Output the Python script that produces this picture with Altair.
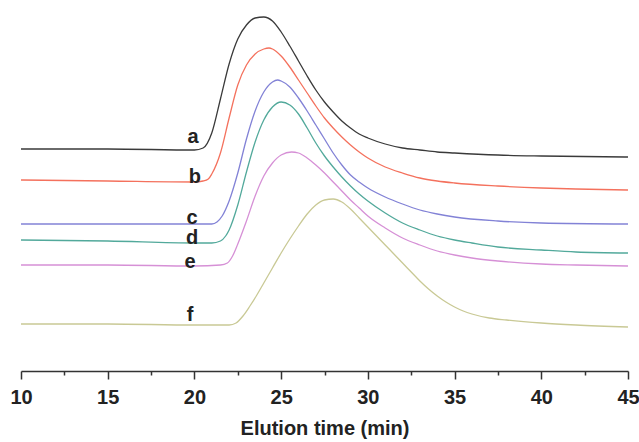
import altair as alt
import pandas as pd

# ---- data (x: elution time in min, y: detector signal, arbitrary units)
a_x = [10, 15, 20, 20.5, 21.0, 21.5, 22.0, 22.5, 23.0, 23.5, 24.0, 24.5, 25.0, 25.5, 26.0, 26.5, 27.0, 27.5, 28.0, 28.5, 29.0, 29.5, 30.0, 31.0, 32.0, 33.0, 34.0, 35.0, 37.5, 40.0, 45.0]
a_y = [222, 222, 221, 223, 238, 272, 307, 332, 346, 353, 354, 350, 339, 325, 310, 295, 281, 269, 259, 250, 243, 237, 233, 227, 223, 221, 219, 218, 216, 215, 214]

b_x = [10, 15, 20, 20.5, 20.8, 21.0, 21.5, 22.0, 22.5, 23.0, 23.5, 24.0, 24.3, 24.5, 25.0, 25.5, 26.0, 26.5, 27.0, 27.5, 28.0, 28.5, 29.0, 29.5, 30.0, 31.0, 32.0, 33.0, 34.0, 35.0, 37.5, 40.0, 42.0, 45.0]
b_y = [191, 190, 189, 190, 192, 197, 218, 253, 286, 306, 317, 322, 323, 322, 315, 304, 291, 278, 265, 253, 243, 234, 226, 219, 213, 204, 198, 193, 190, 188, 185, 183, 182, 181]

c_x = [10, 15, 20, 21.0, 21.3, 21.6, 22.0, 22.5, 23.0, 23.5, 24.0, 24.5, 24.8, 25.0, 25.5, 26.0, 26.5, 27.0, 27.5, 28.0, 28.5, 29.0, 29.5, 30.0, 31.0, 32.0, 33.0, 34.0, 35.0, 37.5, 40.0, 45.0]
c_y = [147, 147, 147, 147, 149, 155, 170, 198, 232, 260, 279, 289, 291, 290, 284, 273, 260, 246, 232, 218, 206, 196, 189, 183, 174, 167, 161, 157, 154, 150, 148, 147]

d_x = [10, 15, 20, 21.0, 21.5, 21.8, 22.0, 22.5, 23.0, 23.5, 24.0, 24.5, 25.0, 25.5, 26.0, 26.5, 27.0, 27.5, 28.0, 28.5, 29.0, 29.5, 30.0, 31.0, 32.0, 33.0, 34.0, 35.0, 36.0, 37.5, 40.0, 42.0, 45.0]
d_y = [131, 130, 128, 128, 130, 135, 141, 166, 199, 229, 251, 264, 269, 266, 257, 243, 228, 215, 204, 194, 185, 177, 170, 158, 148, 141, 135, 131, 128, 124, 121, 119, 118]

e_x = [10, 15, 20, 21.5, 21.9, 22.2, 22.5, 23.0, 23.5, 24.0, 24.5, 25.0, 25.6, 26.0, 26.5, 27.0, 27.5, 28.0, 28.5, 29.0, 29.5, 30.0, 31.0, 32.0, 33.0, 34.0, 35.0, 36.0, 37.5, 40.0, 42.0, 45.0]
e_y = [106, 106, 105, 106, 108, 115, 127, 150, 175, 195, 208, 216, 219, 218, 213, 206, 198, 189, 180, 171, 163, 155, 143, 133, 126, 120, 116, 113, 110, 107, 106, 105]

f_x = [10, 15, 20, 22.0, 22.4, 22.8, 23.2, 23.6, 24.0, 24.5, 25.0, 25.5, 26.0, 26.5, 27.0, 27.5, 28.0, 28.5, 29.0, 29.5, 30.0, 30.5, 31.0, 31.5, 32.0, 32.5, 33.0, 33.5, 34.0, 34.5, 35.0, 35.5, 36.0, 37.0, 38.0, 40.0, 42.0, 45.0]
f_y = [47, 47, 46, 46, 48, 55, 65, 76, 88, 103, 118, 132, 145, 157, 166, 171, 172, 169, 162, 153, 144, 135, 126, 117, 108, 99, 90, 82, 75, 69, 64, 60, 57, 53, 51, 48, 46, 44]

series_names = ["a", "b", "c", "d", "e", "f"]
series_colors = ["#3a3a3a", "#f4715d", "#8282d6", "#52a99b", "#d690d6", "#c9c995"]

label_x = [19.92, 20.03, 19.86, 19.86, 19.75, 19.75]
label_y = [234, 194, 153, 133, 109, 56]

tick_values = [10, 12.5, 15, 17.5, 20, 22.5, 25, 27.5, 30, 32.5, 35, 37.5, 40, 42.5, 45]

xs = [a_x, b_x, c_x, d_x, e_x, f_x]
ys = [a_y, b_y, c_y, d_y, e_y, f_y]
rows = []
for name, xv, yv in zip(series_names, xs, ys):
    for i, (x, y) in enumerate(zip(xv, yv)):
        rows.append({"series": name, "time": x, "signal": y, "order": i})
df = pd.DataFrame(rows)
labels_df = pd.DataFrame({"series": series_names, "time": label_x, "signal": label_y})

x_scale = alt.Scale(domain=[10, 45], nice=False, zero=False)
y_scale = alt.Scale(domain=[0, 361], nice=False, zero=False)

x_axis = alt.Axis(
    values=tick_values,
    labelExpr="datum.value % 5 === 0 ? datum.label : ''",
    tickSize={"condition": {"test": "datum.value % 5 === 0", "value": 8}, "value": 4},
    tickColor="#333333",
    tickWidth=1.5,
    domainColor="#333333",
    domainWidth=1.5,
    grid=False,
    labelFont="Liberation Sans",
    labelFontWeight="bold",
    labelFontSize=20,
    labelColor="#222222",
    labelPadding=8,
    labelFlush=False,
    labelOverlap=False,
    title="Elution time (min)",
    titleFont="Liberation Sans",
    titleFontWeight="bold",
    titleFontSize=20,
    titleColor="#222222",
    titlePadding=11,
)

lines = alt.Chart(df).mark_line(strokeWidth=1.3, interpolate="monotone").encode(
    x=alt.X("time:Q", scale=x_scale, axis=x_axis),
    y=alt.Y("signal:Q", scale=y_scale, axis=None),
    color=alt.Color("series:N", scale=alt.Scale(domain=series_names, range=series_colors), legend=None),
    order="order:Q",
)

texts = alt.Chart(labels_df).mark_text(
    font="Liberation Sans", fontWeight="bold", fontSize=20, color="#222222",
    align="center", baseline="middle",
).encode(
    x=alt.X("time:Q", scale=x_scale),
    y=alt.Y("signal:Q", scale=y_scale),
    text="series:N",
)

chart = alt.layer(lines, texts).properties(
    width=607,
    height=361,
    autosize=alt.AutoSizeParams(type="none"),
    padding={"left": 21, "top": 10, "right": 11, "bottom": 71},
    background="white",
).configure_view(stroke=None)

chart.save("out.html", embed_options={"renderer": "svg", "actions": False})
